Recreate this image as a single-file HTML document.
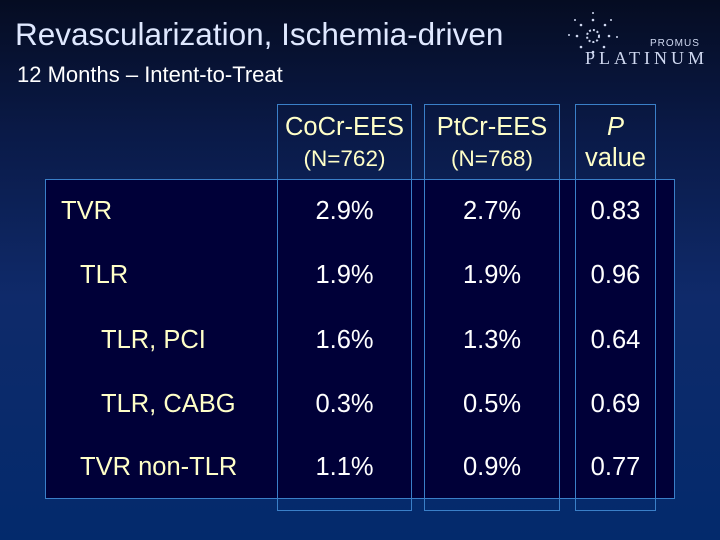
<!DOCTYPE html>
<html><head><meta charset="utf-8"><style>
body{margin:0;width:720px;height:540px;overflow:hidden;font-family:"Liberation Sans",sans-serif;}
#slide{position:relative;width:720px;height:540px;background:linear-gradient(180deg,#050c22 0%,#0a1a48 25%,#0f2a6a 55%,#032a6c 100%);}
.t{position:absolute;white-space:nowrap;}
.box{position:absolute;border:1px solid #3a7fc8;box-sizing:border-box;}
.lab{color:#ffffc8;font-size:25.5px;}
.val{color:#ffffff;font-size:25.5px;text-align:center;}
.hd{color:#ffffc8;text-align:center;}
</style></head><body>
<div id="slide">
<div class="t" style="left:15px;top:16px;font-size:31.5px;color:#dfe8ff;">Revascularization, Ischemia-driven</div>
<div class="t" style="left:17px;top:62px;font-size:22px;color:#ffffff;">12 Months – Intent-to-Treat</div>
<div style="position:absolute;left:565px;top:8px;width:155px;height:60px;">
<svg width="60" height="60" style="position:absolute;left:0;top:0">
<g fill="#cfd8f0"><circle cx="28" cy="28" r="6" fill="none" stroke="#cfd8f0" stroke-width="2" stroke-dasharray="2 2"/>
<circle cx="28" cy="12" r="1.3"/><circle cx="28" cy="5" r="1"/><circle cx="40" cy="17" r="1.3"/><circle cx="46" cy="12" r="1"/><circle cx="44" cy="28" r="1.3"/><circle cx="52" cy="29" r="1"/><circle cx="39" cy="39" r="1.3"/><circle cx="16" cy="39" r="1.3"/><circle cx="12" cy="28" r="1.3"/><circle cx="4" cy="27" r="1"/><circle cx="16" cy="17" r="1.3"/><circle cx="10" cy="12" r="1"/><circle cx="28" cy="44" r="1.3"/></g></svg>
<div class="t" style="left:85px;top:30px;font-size:10px;color:#cfd8f0;letter-spacing:1px;">PROMUS</div>
<div class="t" style="left:20px;top:40px;font-size:18px;color:#cfd8f0;letter-spacing:4px;font-family:'Liberation Serif',serif;">PLATINUM</div>
</div>
<div class="box" style="left:45px;top:179px;width:630px;height:320px;background:#000038;"></div>
<div class="box" style="left:277px;top:104px;width:135px;height:407px;"></div>
<div class="box" style="left:424px;top:104px;width:136px;height:407px;"></div>
<div class="box" style="left:575px;top:104px;width:81px;height:407px;"></div>
<div class="t hd" style="left:277px;top:113px;width:135px;font-size:25.5px;">CoCr-EES</div>
<div class="t hd" style="left:277px;top:146px;width:135px;font-size:22.5px;">(N=762)</div>
<div class="t hd" style="left:424px;top:113px;width:136px;font-size:25.5px;">PtCr-EES</div>
<div class="t hd" style="left:424px;top:146px;width:136px;font-size:22.5px;">(N=768)</div>
<div class="t hd" style="left:575px;top:113px;width:81px;font-size:25.5px;font-style:italic;">P</div>
<div class="t hd" style="left:575px;top:144px;width:81px;font-size:25.5px;">value</div>

<div class="t lab" style="left:61px;top:197px;">TVR</div>
<div class="t val" style="left:277px;top:197px;width:135px;">2.9%</div>
<div class="t val" style="left:424px;top:197px;width:136px;">2.7%</div>
<div class="t val" style="left:575px;top:197px;width:81px;">0.83</div>

<div class="t lab" style="left:80px;top:261px;">TLR</div>
<div class="t val" style="left:277px;top:261px;width:135px;">1.9%</div>
<div class="t val" style="left:424px;top:261px;width:136px;">1.9%</div>
<div class="t val" style="left:575px;top:261px;width:81px;">0.96</div>

<div class="t lab" style="left:101px;top:326px;">TLR, PCI</div>
<div class="t val" style="left:277px;top:326px;width:135px;">1.6%</div>
<div class="t val" style="left:424px;top:326px;width:136px;">1.3%</div>
<div class="t val" style="left:575px;top:326px;width:81px;">0.64</div>

<div class="t lab" style="left:101px;top:390px;">TLR, CABG</div>
<div class="t val" style="left:277px;top:390px;width:135px;">0.3%</div>
<div class="t val" style="left:424px;top:390px;width:136px;">0.5%</div>
<div class="t val" style="left:575px;top:390px;width:81px;">0.69</div>

<div class="t lab" style="left:80px;top:453px;">TVR non-TLR</div>
<div class="t val" style="left:277px;top:453px;width:135px;">1.1%</div>
<div class="t val" style="left:424px;top:453px;width:136px;">0.9%</div>
<div class="t val" style="left:575px;top:453px;width:81px;">0.77</div>
</div>
</body></html>
